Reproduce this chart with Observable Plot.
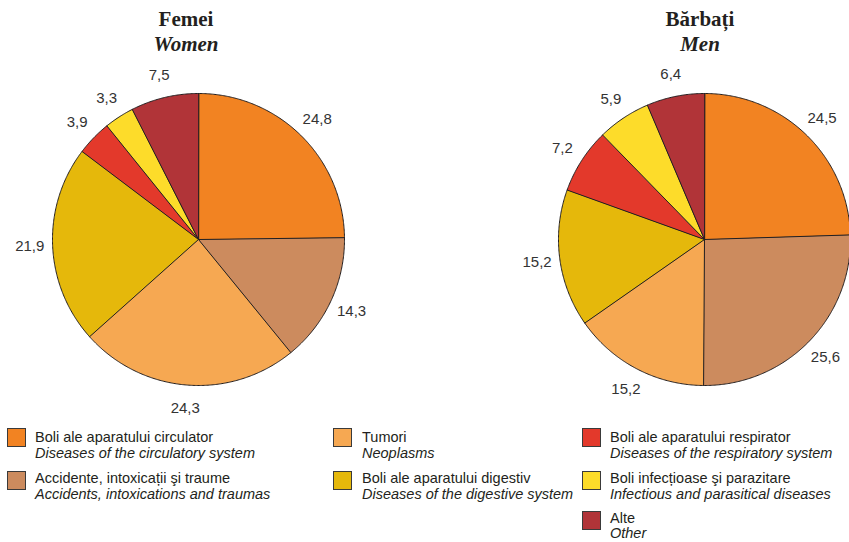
<!DOCTYPE html>
<html>
<head>
<meta charset="utf-8">
<script src="https://cdn.jsdelivr.net/npm/d3@7"></script>
<script src="https://cdn.jsdelivr.net/npm/@observablehq/plot@0.6"></script>
<style>
  html, body { margin: 0; padding: 0; background: #fff; overflow: hidden; }
  #wrap { position: relative; width: 849px; height: 542px; overflow: hidden; background: #fff; }
  .title { position: absolute; width: 240px; text-align: center; font-family: "Liberation Serif", "Times New Roman", serif; font-weight: bold; font-size: 21px; line-height: 25px; color: #231f20; z-index: 2; }
  .pie { position: absolute; z-index: 1; }
  .sw { position: absolute; width: 19px; height: 19px; box-sizing: border-box; border: 1px solid #3a3a3a; }
  .lt { position: absolute; font-family: "Liberation Sans", Arial, sans-serif; font-size: 14.5px; line-height: 16px; color: #231f20; white-space: nowrap; }
  .lt i { display: block; }
  .lt.last { line-height: 15px; }
</style>
</head>
<body>
<div id="wrap"></div>
<script>
const categories = ["circ", "acc", "tum", "dig", "resp", "inf", "alte"];
const labelsRo = ["Boli ale aparatului circulator", "Accidente, intoxicații şi traume", "Tumori", "Boli ale aparatului digestiv", "Boli ale aparatului respirator", "Boli infecțioase şi parazitare", "Alte"];
const labelsEn = ["Diseases of the circulatory system", "Accidents, intoxications and traumas", "Neoplasms", "Diseases of the digestive system", "Diseases of the respiratory system", "Infectious and parasitical diseases", "Other"];
const colors = ["#f28322", "#cc8b5e", "#f6a852", "#e5b80b", "#e3392b", "#fddc2a", "#b13438"];
const women = [24.8, 14.3, 24.3, 21.9, 3.9, 3.3, 7.5];
const men = [24.5, 25.6, 15.2, 15.2, 7.2, 5.9, 6.4];
const titlesRo = ["Femei", "Bărbați"];
const titlesEn = ["Women", "Men"];

const wrap = document.getElementById("wrap");
const fmt = v => v.toFixed(1).replace(".", ",");

function pie(values) {
  const total = d3.sum(values);
  let acc = 0;
  const pts = [], labs = [];
  values.forEach((v, i) => {
    const a0 = acc / total * 2 * Math.PI;
    const a1 = (acc + v) / total * 2 * Math.PI;
    acc += v;
    const cat = categories[i];
    pts.push({cat, x: 0, y: 0});
    const n = Math.max(2, Math.ceil((a1 - a0) / (Math.PI / 360)));
    for (let k = 0; k <= n; k++) {
      const t = a0 + (a1 - a0) * k / n;
      pts.push({cat, x: Math.sin(t), y: Math.cos(t)});
    }
    const m = (a0 + a1) / 2;
    labs.push({x: 1.157 * Math.sin(m), y: 1.157 * Math.cos(m), text: fmt(v)});
  });
  const R = 198 / 146;
  return Plot.plot({
    width: 396, height: 396, margin: 0,
    x: {domain: [-R, R], axis: null},
    y: {domain: [-R, R], axis: null},
    color: {domain: categories, range: colors},
    style: {background: "none", overflow: "visible", fontFamily: "'Liberation Sans', Arial, sans-serif"},
    marks: [
      Plot.line(pts, {x: "x", y: "y", z: "cat", fill: "cat", stroke: "#231f20", strokeWidth: 1, strokeLinejoin: "round", curve: "linear-closed"}),
      Plot.text(labs, {x: "x", y: "y", text: "text", fontSize: 15, fill: "#333"})
    ]
  });
}

const centers = [[198, 238.5], [703.5, 238.5]];
const titleX = [186, 700];
[women, men].forEach((vals, j) => {
  const svg = pie(vals);
  svg.classList.add("pie");
  svg.style.left = (centers[j][0] - 198) + "px";
  svg.style.top = (centers[j][1] - 198) + "px";
  wrap.appendChild(svg);
  const t = document.createElement("div");
  t.className = "title";
  t.style.left = (titleX[j] - 120) + "px";
  t.style.top = "7px";
  t.innerHTML = titlesRo[j] + "<br><i>" + titlesEn[j] + "</i>";
  wrap.appendChild(t);
});

// legend layout: column and row for each category
const legCol = [0, 0, 1, 1, 2, 2, 2];
const legRow = [0, 1, 0, 1, 0, 1, 2];
const colSw = [7, 333, 582];
const colTx = [35, 362, 610];
const rowTx = [429, 470, 511];
const rowSw = [428, 471, 511];
categories.forEach((c, i) => {
  const sw = document.createElement("div");
  sw.className = "sw";
  sw.style.left = colSw[legCol[i]] + "px";
  sw.style.top = rowSw[legRow[i]] + "px";
  sw.style.background = colors[i];
  wrap.appendChild(sw);
  const tx = document.createElement("div");
  tx.className = "lt" + (legRow[i] === 2 ? " last" : "");
  tx.style.left = colTx[legCol[i]] + "px";
  tx.style.top = rowTx[legRow[i]] + "px";
  tx.innerHTML = labelsRo[i] + "<i>" + labelsEn[i] + "</i>";
  wrap.appendChild(tx);
});
</script>
</body>
</html>
